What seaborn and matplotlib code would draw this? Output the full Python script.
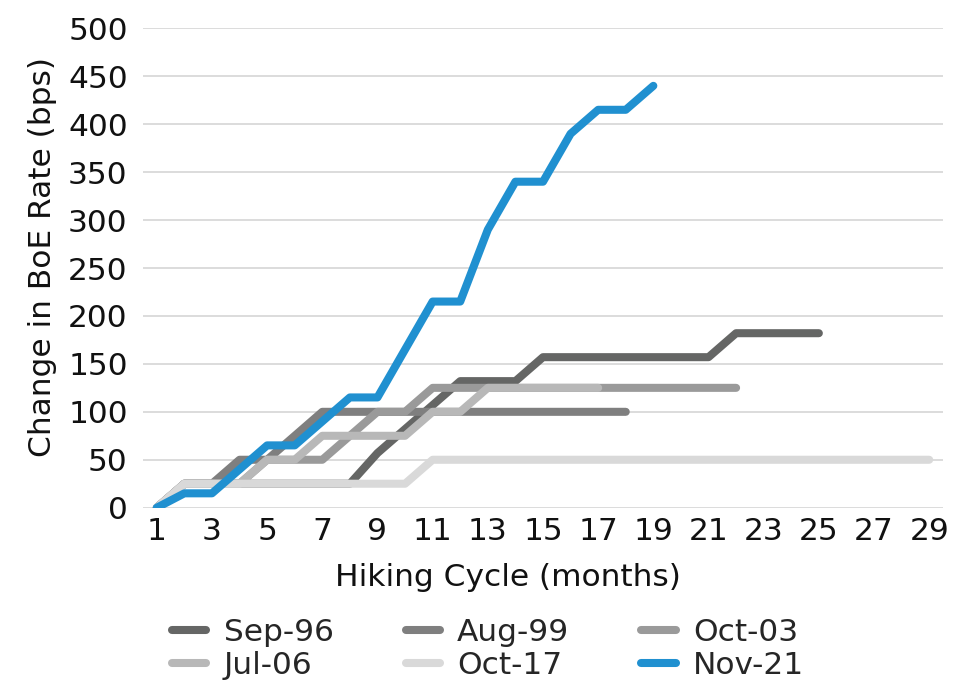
import matplotlib
matplotlib.use("Agg")
import matplotlib.pyplot as plt
import seaborn as sns
import pandas as pd

# ---- data ----
series_names = ["Sep-96", "Aug-99", "Oct-03", "Jul-06", "Oct-17", "Nov-21"]
sep96 = [0, 25, 25, 25, 25, 25, 25, 25, 57, 82, 107, 132, 132, 132, 157, 157, 157,
         157, 157, 157, 157, 182, 182, 182, 182]
aug99 = [0, 25, 25, 50, 50, 75, 100, 100, 100, 100, 100, 100, 100, 100, 100, 100, 100, 100]
oct03 = [0, 25, 25, 25, 50, 50, 50, 75, 100, 100, 125, 125, 125, 125, 125, 125, 125,
         125, 125, 125, 125, 125]
jul06 = [0, 25, 25, 25, 50, 50, 75, 75, 75, 75, 100, 100, 125, 125, 125, 125, 125]
oct17 = [0, 25, 25, 25, 25, 25, 25, 25, 25, 25, 50, 50, 50, 50, 50, 50, 50, 50, 50,
         50, 50, 50, 50, 50, 50, 50, 50, 50, 50]
nov21 = [0, 15, 15, 40, 65, 65, 90, 115, 115, 165, 215, 215, 290, 340, 340, 390, 415,
         415, 440]
colors = ["#656665", "#7f7f7f", "#9a9a9a", "#b8b8b8", "#d9d9d9", "#2090d0"]
x_ticks = list(range(1, 30, 2))
y_ticks = list(range(0, 501, 50))

all_series = [sep96, aug99, oct03, jul06, oct17, nov21]
rows = []
for name, vals in zip(series_names, all_series):
    for i, v in enumerate(vals):
        rows.append({"month": i + 1, "bps": v, "cycle": name})
df = pd.DataFrame(rows)

sns.set_theme(style="white")
plt.rcParams["font.family"] = ["DejaVu Sans"]

FS = 22.5
TXT = "#111111"

fig = plt.figure(figsize=(9.68, 7.0), dpi=100)
ax = fig.add_axes([143 / 968, 1 - 507.7 / 700, 800 / 968, (507.7 - 28.3) / 700])

sns.lineplot(data=df, x="month", y="bps", hue="cycle", hue_order=series_names,
             palette=colors, linewidth=5.8, ax=ax, legend=False,
             solid_capstyle="round", solid_joinstyle="round")

ax.set_xlim(0.5, 29.5)
ax.set_ylim(0, 500)
ax.set_xticks(x_ticks)
ax.set_xticklabels([str(t) for t in x_ticks])
ax.set_yticks(y_ticks)
ax.grid(axis="y", color="#d9d9d9", linewidth=1.3)
ax.grid(axis="x", visible=False)
ax.set_axisbelow(True)
for s in ax.spines.values():
    s.set_visible(False)
ax.tick_params(axis="both", length=0, labelsize=FS, colors=TXT)
ax.tick_params(axis="y", pad=11)
ax.tick_params(axis="x", pad=7)
ax.set_xlabel("Hiking Cycle (months)", fontsize=FS, color=TXT, labelpad=12, x=0.456)
ax.set_ylabel("Change in BoE Rate (bps)", fontsize=FS, color=TXT, labelpad=8, y=0.523)

handles = ax.get_lines()[:6]
order = [0, 3, 1, 4, 2, 5]
leg = fig.legend([handles[i] for i in order], [series_names[i] for i in order],
                 ncol=3, loc="center", bbox_to_anchor=(488 / 968, 1 - 649 / 700),
                 frameon=False, fontsize=FS, handlelength=1.1, handletextpad=0.55,
                 columnspacing=2.3, labelspacing=0.15)
for line in leg.get_lines():
    line.set_linewidth(5.8)
    line.set_solid_capstyle("round")

fig.savefig("out.png", dpi=100)
